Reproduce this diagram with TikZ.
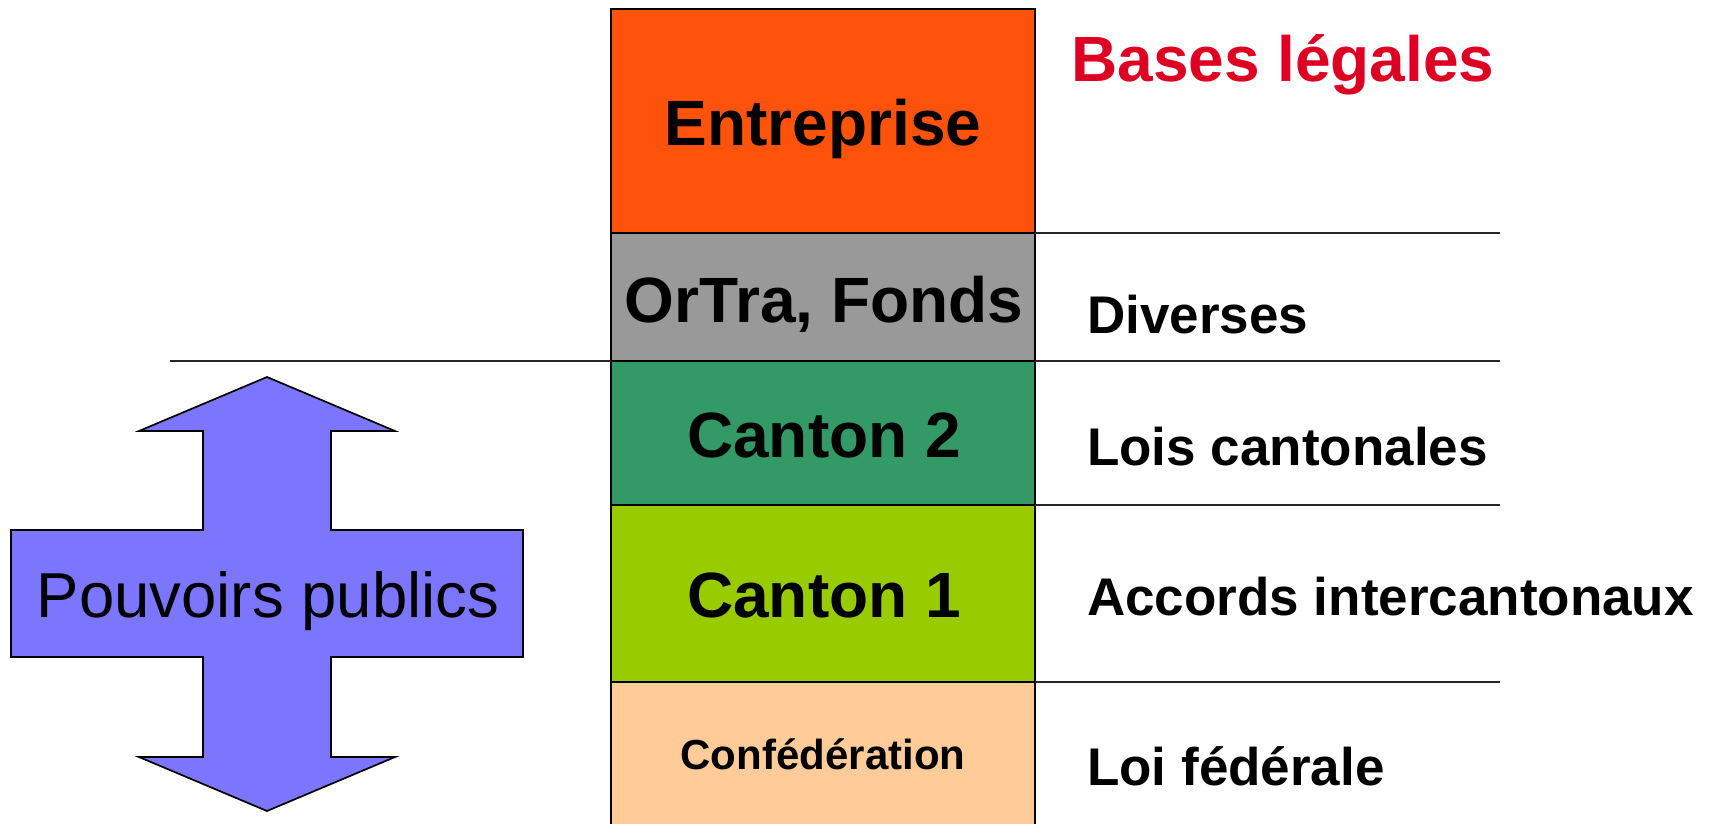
\documentclass[tikz,border=0pt]{standalone}
\usepackage{fontspec}
\setmainfont{Liberation Sans}
\definecolor{cEnt}{RGB}{255,83,12}
\definecolor{cOrt}{RGB}{153,153,153}
\definecolor{cCa2}{RGB}{51,153,102}
\definecolor{cCa1}{RGB}{153,204,0}
\definecolor{cConf}{RGB}{255,204,153}
\definecolor{cArrow}{RGB}{124,118,255}
\definecolor{cRed}{RGB}{221,0,34}
\tikzset{
  layer/.style={draw=black, line width=1.7pt, inner sep=0pt, outer sep=0pt, anchor=north west, minimum width=424pt},
  big/.style={inner sep=0pt, anchor=base, font=\bfseries\fontsize{64}{70}\selectfont},
  lbl/.style={inner sep=0pt, anchor=base west, font=\bfseries\fontsize{53}{60}\selectfont},
  sep/.style={draw=black!85, line width=1.8pt},
}
\begin{document}
\begin{tikzpicture}[x=1pt,y=-1pt]
\useasboundingbox (0,0) rectangle (1716,823);
% column layers
\node[layer, fill=cEnt, minimum height=224pt] (ent) at (611,9) {};
\node[layer, fill=cOrt, minimum height=128pt] (ort) at (611,233) {};
\node[layer, fill=cCa2, minimum height=144pt] (ca2) at (611,361) {};
\node[layer, fill=cCa1, minimum height=177pt] (ca1) at (611,505) {};
\node[layer, fill=cConf, minimum height=150pt] (conf) at (611,682) {};
% texts in column
\node[big] (tEnt) at (823,145) {Entreprise};
\node[big] (tOrt) at (824,322) {OrTra, Fonds};
\node[big] (tCa2) at (824,457) {Canton 2};
\node[big] (tCa1) at (824,617) {Canton 1};
\node[inner sep=0pt, anchor=base, font=\bfseries\fontsize{42}{48}\selectfont] (tConf) at (823,769) {Confédération};
% separators
\coordinate (r1) at (1500,233);
\coordinate (r2) at (1500,361);
\coordinate (r3) at (1500,505);
\coordinate (r4) at (1500,682);
\coordinate (l2) at (170,361);
\draw[sep] (ent.south east) -- (r1);
\draw[sep] (ort.south east) -- (r2);
\draw[sep] (ca2.south east) -- (r3);
\draw[sep] (ca1.south east) -- (r4);
\draw[sep] (l2) -- (ort.south west);
% right labels
\node[inner sep=0pt, anchor=base west, text=cRed, font=\bfseries\fontsize{64}{70}\selectfont] (bases) at (1071,81) {Bases légales};
\node[lbl] (div) at (1087,333) {Diverses};
\node[lbl] (lois) at (1087,465) {Lois cantonales};
\node[lbl] (acc) at (1087,615) {Accords intercantonaux};
\node[lbl] (fed) at (1087,785) {Loi fédérale};
% double arrow cross
\draw[fill=cArrow, draw=black, line width=1.7pt, line join=miter]
  (267,377) -- (395,431) -- (331,431) -- (331,530) -- (523,530) -- (523,657)
  -- (331,657) -- (331,757) -- (395,757) -- (267,811) -- (139,757) -- (203,757)
  -- (203,657) -- (11,657) -- (11,530) -- (203,530) -- (203,431) -- (139,431) -- cycle;
\node[inner sep=0pt, anchor=base, font=\fontsize{63.5}{70}\selectfont] (pp) at (268,617) {Pouvoirs publics};
\end{tikzpicture}
\end{document}
